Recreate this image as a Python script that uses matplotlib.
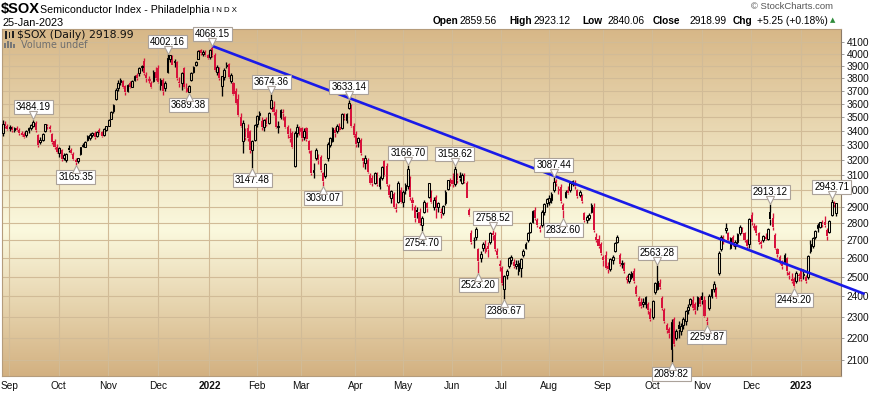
import numpy as np
import pandas as pd
import matplotlib
matplotlib.use('Agg')
import matplotlib.pyplot as plt
from matplotlib.colors import LinearSegmentedColormap
from matplotlib.transforms import offset_copy
from matplotlib.ticker import NullLocator
from matplotlib.patches import Rectangle

# ---------------- data ----------------
holidays = ['2021-09-06', '2021-11-25', '2021-12-24', '2022-01-17', '2022-02-21',
            '2022-04-15', '2022-05-30', '2022-06-20', '2022-07-04', '2022-09-05',
            '2022-11-24', '2022-12-26', '2023-01-02', '2023-01-16', '2023-02-20']
first_day = '2021-08-27'
last_day = '2023-01-25'

opens = [3390,3450,3440,3420,3430,3405,3420,3410,3385,3380,3370,3405,3420,3440,3460,3370,3320,3340,3400,3440,3430,3380,3330,3290,
 3250,3270,3210,3200,3280,3270,3240,3200,3195,3240,3295,3290,3335,3350,3370,3390,3365,3405,3395,3370,3405,
 3440,3490,3545,3640,3720,3770,3780,3740,3700,3760,3735,3790,3830,3840,3890,3940,3830,3790,3760,3780,3850,
 3880,3750,3790,3720,3850,3960,3980,3935,3935,3770,3760,3880,3700,3690,3790,3850,3910,3960,4030,4000,4020,3990,
 3975,4050,3990,3850,3880,3740,3810,3900,3915,3780,3760,3700,3640,3500,3330,3400,3420,3400,3270,3340,
 3450,3520,3470,3430,3490,3460,3570,3580,3540,3430,3500,3540,3500,3430,3360,3390,3160,3390,3400,
 3420,3360,3420,3330,3260,3120,3210,3230,3220,3110,3090,3210,3300,3330,3410,3400,3430,3420,3520,3480,3570,3590,3440,
 3380,3320,3340,3210,3180,3200,3100,3080,3050,3110,3030,3080,3190,3160,3030,2950,2980,2890,2930,3000,
 2930,3000,3030,3080,2940,2900,2880,2870,2790,2870,2920,2960,2990,2900,2960,2900,2870,2860,2920,3010,3060,
 3070,3040,3100,3090,3050,3090,3050,2880,2740,2700,2720,2650,2600,2660,2640,2670,2690,2740,2730,2640,2570,
 2550,2440,2510,2560,2590,2580,2560,2530,2550,2620,2660,2700,2750,2810,2880,2820,2780,2790,2870,2920,
 2930,2940,3000,3060,3000,3020,2910,2960,3000,3000,3040,3050,3000,2970,2970,2860,2820,2830,2870,2900,2720,2710,2680,
 2610,2620,2560,2540,2590,2640,2690,2620,2570,2570,2490,2480,2500,2530,2450,2390,2370,2360,2360,2360,2320,
 2300,2420,2440,2470,2390,2330,2260,2240,2150,2290,2200,2260,2230,2260,2280,2330,2360,2380,2360,2350,2390,
 2400,2380,2280,2340,2400,2440,2440,2520,2650,2700,2760,2740,2660,2720,2670,2690,2740,2770,2740,2700,2680,
 2850,2780,2780,2740,2690,2700,2720,2710,2870,2830,2730,2650,2610,2570,2580,2600,2520,2490,2490,2480,2510,
 2530,2510,2500,2500,2640,2670,2720,2770,2780,2800,2810,2760,2750,2850,2920,2859.56]

highs = [3480,3470,3455,3445,3440,3430,3440,3420,3400,3395,3410,3430,3450,3484.19,3470,3380,3360,3390,3455,3455,3445,3390,3345,3310,
 3290,3275,3250,3245,3300,3280,3255,3215,3215,3290,3315,3330,3370,3385,3395,3400,3400,3420,3400,3420,3440,
 3485,3545,3600,3720,3790,3800,3790,3750,3755,3775,3790,3830,3845,3890,3910,3965,3850,3815,3775,3870,3890,
 3905,3800,3805,3775,4002.16,3995,3990,3955,3945,3810,3850,3890,3760,3750,3850,3900,3940,4030,4045,4030,4030,4000,
 4040,4068.15,4005,3910,3890,3820,3880,3930,3925,3840,3770,3720,3680,3530,3480,3420,3450,3410,3340,3450,
 3520,3550,3500,3490,3500,3540,3674.36,3620,3560,3470,3560,3560,3510,3445,3420,3400,3400,3450,3440,
 3430,3420,3430,3340,3270,3180,3280,3240,3230,3120,3180,3320,3360,3430,3430,3450,3460,3530,3530,3530,3633.14,3600,3460,
 3400,3360,3350,3215,3230,3210,3110,3100,3120,3120,3090,3160,3200,3180,3040,3000,2990,2920,3060,3020,
 3000,3050,3166.70,3090,2960,2910,2900,2890,2840,2940,2930,3050,3000,2960,2970,2930,2890,2910,3000,3070,3080,
 3110,3158.62,3110,3120,3110,3110,3060,2890,2760,2720,2780,2660,2640,2690,2700,2690,2750,2758.52,2750,2660,2590,
 2560,2510,2540,2610,2620,2595,2590,2590,2600,2650,2690,2750,2810,2880,2900,2830,2790,2880,2920,2950,
 2970,2990,3087.44,3075,3030,3040,2920,3000,3030,3050,3070,3065,3010,3000,2980,2870,2850,2860,2920,2920,2740,2730,2690,
 2620,2640,2580,2600,2620,2690,2730,2630,2590,2580,2510,2520,2530,2550,2460,2400,2390,2390,2400,2370,2340,
 2380,2475,2563.28,2490,2400,2340,2270,2250,2290,2300,2240,2280,2270,2300,2330,2360,2390,2400,2370,2400,2400,
 2420,2400,2300,2410,2440,2480,2450,2640,2730,2730,2800,2750,2720,2730,2700,2740,2790,2780,2750,2710,2830,
 2870,2800,2790,2750,2700,2730,2740,2770,2913.12,2860,2740,2660,2620,2590,2630,2610,2530,2520,2500,2530,2520,
 2550,2540,2510,2620,2700,2720,2760,2800,2810,2820,2840,2770,2820,2943.71,2935,2923.12]

lows = [3365,3425,3405,3400,3395,3395,3400,3370,3365,3350,3360,3390,3405,3430,3395,3285,3310,3330,3395,3415,3395,3310,3275,3250,
 3220,3190,3200,3185,3255,3240,3200,3165.35,3180,3235,3285,3285,3330,3340,3355,3345,3360,3380,3355,3365,3400,
 3435,3485,3535,3630,3700,3745,3720,3670,3695,3720,3730,3780,3790,3820,3860,3830,3770,3765,3720,3770,3790,
 3765,3710,3670,3700,3845,3935,3905,3890,3790,3730,3710,3720,3695,3689.38,3780,3840,3900,3955,3990,3985,3985,3960,
 3960,3975,3860,3830,3790,3665,3790,3880,3800,3760,3670,3600,3510,3430,3250,3340,3330,3250,3147.48,3330,
 3430,3480,3410,3400,3440,3450,3565,3520,3420,3390,3490,3480,3420,3350,3320,3280,3155,3360,3370,
 3330,3340,3330,3250,3100,3080,3200,3170,3120,3030.07,3080,3190,3290,3320,3360,3390,3400,3415,3480,3460,3560,3430,3360,
 3290,3290,3230,3150,3140,3110,3040,3030,3040,3030,3010,3070,3090,3030,2960,2920,2890,2870,2920,2920,
 2900,2980,3010,2940,2880,2810,2830,2790,2754.70,2860,2870,2950,2920,2880,2830,2870,2830,2850,2910,3000,3030,
 3020,3030,3050,3060,3040,3050,2950,2840,2680,2660,2700,2523.20,2580,2640,2630,2610,2680,2700,2640,2600,2530,
 2460,2386.67,2490,2550,2570,2550,2540,2510,2500,2610,2650,2690,2740,2800,2820,2780,2750,2780,2850,2900,
 2910,2920,2990,3030,2980,2920,2832.60,2950,2980,2990,3030,3010,2950,2960,2920,2810,2800,2820,2860,2750,2690,2660,2620,
 2560,2540,2520,2530,2570,2635,2685,2560,2550,2520,2470,2470,2490,2470,2400,2350,2340,2345,2340,2310,2280,
 2290,2410,2430,2440,2330,2270,2220,2200,2089.82,2160,2190,2200,2210,2240,2260,2310,2350,2330,2310,2330,2350,
 2360,2300,2259.87,2330,2390,2420,2390,2510,2640,2680,2740,2690,2650,2670,2650,2680,2730,2740,2690,2660,2660,
 2790,2760,2730,2680,2660,2690,2700,2700,2790,2760,2650,2610,2570,2540,2570,2510,2490,2470,2445.20,2470,2480,
 2480,2490,2470,2490,2630,2660,2710,2750,2770,2780,2780,2700,2740,2840,2900,2840.06]

closes = [3450,3440,3415,3430,3405,3420,3410,3385,3375,3360,3400,3420,3445,3465,3410,3300,3335,3380,3450,3440,3415,3320,3285,3255,
 3280,3205,3235,3240,3265,3250,3205,3185,3210,3285,3305,3325,3365,3375,3385,3355,3395,3390,3365,3415,3435,
 3480,3540,3595,3710,3765,3785,3735,3690,3745,3730,3775,3820,3800,3880,3895,3845,3800,3795,3735,3855,3805,
 3770,3790,3700,3765,3965,3990,3910,3945,3800,3760,3840,3730,3720,3740,3845,3895,3930,4025,4005,4015,3995,3970,
 4030,3995,3865,3890,3800,3815,3870,3905,3810,3830,3680,3610,3520,3440,3460,3360,3350,3270,3330,3445,
 3510,3535,3430,3480,3455,3530,3630,3540,3430,3440,3555,3535,3430,3380,3350,3290,3390,3430,3420,
 3350,3400,3345,3270,3110,3130,3270,3200,3130,3060,3170,3310,3350,3420,3390,3440,3410,3525,3495,3525,3605,3440,3370,
 3310,3350,3245,3190,3210,3120,3050,3045,3110,3040,3080,3150,3100,3040,2970,2995,2900,2885,3045,2930,
 2990,3035,3140,2960,2925,2830,2870,2800,2830,2930,2890,3045,2930,2940,2890,2920,2860,2905,2990,3065,3050,
 3040,3140,3065,3080,3100,3060,2955,2850,2690,2705,2765,2585,2625,2680,2660,2650,2745,2730,2650,2620,2560,
 2470,2505,2530,2600,2610,2560,2570,2575,2595,2640,2680,2745,2800,2875,2830,2790,2765,2870,2915,2945,
 2955,2980,3055,3045,3010,2935,2880,2990,2985,3045,3060,3030,2965,2990,2935,2820,2835,2850,2910,2760,2700,2670,2630,
 2590,2550,2540,2595,2610,2685,2720,2570,2575,2530,2500,2515,2520,2480,2410,2375,2350,2370,2395,2330,2290,
 2375,2470,2480,2450,2340,2280,2235,2220,2275,2170,2230,2240,2255,2290,2325,2345,2385,2340,2330,2395,2360,
 2380,2305,2280,2400,2435,2465,2395,2630,2720,2710,2770,2700,2715,2680,2690,2735,2780,2750,2700,2670,2825,
 2810,2785,2740,2690,2680,2725,2710,2765,2825,2780,2660,2625,2580,2560,2620,2530,2510,2480,2455,2520,2505,
 2490,2515,2480,2615,2680,2715,2755,2790,2805,2795,2790,2725,2815,2930,2913.74,2918.99]

month_labels = ['Sep', 'Oct', 'Nov', 'Dec', '2022', 'Feb', 'Mar', 'Apr', 'May', 'Jun',
                'Jul', 'Aug', 'Sep', 'Oct', 'Nov', 'Dec', '2023']
y_ticks = list(range(2100, 4101, 100))

high_label_dates = ['2021-09-16', '2021-12-07', '2022-01-04', '2022-02-09', '2022-03-29', '2022-05-04',
                    '2022-06-02', '2022-06-27', '2022-08-03', '2022-10-05', '2022-12-13', '2023-01-23']
low_label_dates = ['2021-10-12', '2021-12-20', '2022-01-28', '2022-03-14', '2022-05-12', '2022-06-16',
                   '2022-07-05', '2022-08-09', '2022-10-13', '2022-11-03', '2022-12-28']

trend_dates = ['2022-01-04', '2023-02-10']
trend_prices = [4068.15, 2412.0]

# ---------------- derived ----------------
hol = pd.to_datetime(holidays)
dates = pd.bdate_range(first_day, last_day)
dates = dates[~dates.isin(hol)]
O = np.array(opens, float); H = np.array(highs, float)
L = np.array(lows, float); C = np.array(closes, float)
n = len(C)
assert len(O) == n and len(H) == n and len(L) == n and len(dates) == n
xi = np.arange(n)


def date_pos(d):
    d = pd.Timestamp(d)
    hd = np.array(holidays, dtype='datetime64[D]')
    return float(np.busday_count(np.datetime64(dates[0].date()), np.datetime64(d.date()), holidays=hd))


RED = '#D8123C'
BLACK = '#000000'
prev = np.r_[C[0] - 1, C[:-1]]
colors = np.where(C >= prev, BLACK, RED)
hollow = C > O

W, Hpx = 871, 395
fig = plt.figure(figsize=(W / 100, Hpx / 100), dpi=100)
fig.patch.set_facecolor('white')
top_px, bot_px, left_px, right_px = 28.5, 376, 2, 841
ax = fig.add_axes([left_px / W, 1 - bot_px / Hpx, (right_px - left_px) / W, (bot_px - top_px) / Hpx])
ax.set_yscale('log')

# background gradient
cmap = LinearSegmentedColormap.from_list('bg', [(0.0, '#D3B181'), (0.42, '#FBF9DE'), (1.0, '#D7B787')])
grad = np.linspace(0, 1, 256).reshape(-1, 1)
ax.imshow(grad, cmap=cmap, extent=[0, 1, 0, 1], transform=ax.transAxes, aspect='auto',
          origin='lower', zorder=0, interpolation='bilinear')

# month positions
per = dates.to_period('M')
month_pos = [i for i in range(1, n) if per[i] != per[i - 1]]
month_pos = np.array(month_pos[:len(month_labels)], float) - 0.2

grid_col = '#D1BB97'
for yv in y_ticks:
    ax.axhline(yv, color=grid_col, lw=0.8, zorder=1)
for xv in month_pos:
    ax.axvline(xv, color=grid_col, lw=0.8, zorder=1)

# candles
body_lo = np.minimum(O, C)
body_hi = np.maximum(O, C)
body_hi = np.maximum(body_hi, body_lo * 1.002)
ax.vlines(xi, L, body_lo, colors=colors, lw=0.95, zorder=3)
ax.vlines(xi, body_hi, H, colors=colors, lw=0.95, zorder=3)
bw = 0.88
f = ~hollow
ax.bar(xi[f], (body_hi - body_lo)[f], bottom=body_lo[f], width=bw, color=colors[f], lw=0, zorder=4)
ax.bar(xi[hollow], (body_hi - body_lo)[hollow], bottom=body_lo[hollow], width=bw * 0.85,
       facecolor='none', edgecolor=colors[hollow], lw=0.75, zorder=4)

# trend line
tx = [date_pos(d) for d in trend_dates]
ax.plot(tx, trend_prices, color='#1A1AE8', lw=1.9, zorder=5, clip_on=False, solid_capstyle='butt')

# limits (pixel mapping of reference)
px_per_bar = 2.355
x0 = 2.7
ax.set_xlim((left_px - x0) / px_per_bar, (right_px - x0) / px_per_bar)
ref_hi, ref_y, k = 4068.15, 46.0, 474.4
ax.set_ylim(ref_hi * np.exp(-(bot_px - ref_y) / k), ref_hi * np.exp((ref_y - top_px) / k))

# annotations
lab_font = dict(family=['Liberation Sans', 'DejaVu Sans'], fontsize=7.0, color='black')
box = dict(boxstyle='square,pad=0.2', fc='white', ec='#ABA29A', lw=0.8)
tup = offset_copy(ax.transData, fig=fig, x=0, y=3.0, units='points')
tdn = offset_copy(ax.transData, fig=fig, x=0, y=-3.0, units='points')
for d in high_label_dates:
    i = int(date_pos(d)); v = H[i]
    ax.annotate(f'{v:.2f}', xy=(i, v), xytext=(0, 5.2), textcoords='offset points', ha='center',
                va='bottom', bbox=box, zorder=7, annotation_clip=False, **lab_font)
    ax.plot([i], [v], marker='v', ms=5.5, mfc='white', mec='#ABA29A', mew=0.8, transform=tup,
            zorder=8, clip_on=False)
for d in low_label_dates:
    i = int(date_pos(d)); v = L[i]
    ax.annotate(f'{v:.2f}', xy=(i, v), xytext=(0, -5.2), textcoords='offset points', ha='center',
                va='top', bbox=box, zorder=7, annotation_clip=False, **lab_font)
    ax.plot([i], [v], marker='^', ms=5.5, mfc='white', mec='#ABA29A', mew=0.8, transform=tdn,
            zorder=8, clip_on=False)

# axes ticks
narrow = ['Liberation Sans Narrow', 'Liberation Sans', 'DejaVu Sans']
ax.yaxis.tick_right()
ax.set_yticks(y_ticks)
ax.yaxis.set_minor_locator(NullLocator())
ax.set_yticklabels([str(v) for v in y_ticks], family=narrow, fontsize=7.3)
ax.tick_params(axis='y', length=2.5, width=0.6, color='#8C8C8C', pad=1.5, labelcolor='#111111')
ax.set_xticks(month_pos)
ax.set_xticklabels(month_labels, family=narrow, fontsize=7.3)
for t in ax.get_xticklabels():
    if t.get_text().isdigit():
        t.set_fontweight('bold')
ax.tick_params(axis='x', length=0, pad=3.5, labelcolor='#111111')
for s in ax.spines.values():
    s.set_color('#B59C7C'); s.set_linewidth(0.8)
ax.spines['right'].set_linestyle((0, (1, 1)))
ax.spines['right'].set_color('#8C7A66')


def P(x, y):
    return (x / W, 1 - y / Hpx)


# header texts
sans = ['Liberation Sans', 'DejaVu Sans']
fig.text(*P(1, 9.5), r'\$SOX', family=sans, fontsize=10.5, fontweight='bold', va='center', ha='left')
fig.text(*P(39.5, 9.8), 'Semiconductor Index - Philadelphia', family=sans, fontsize=7.7, va='center')
fig.text(*P(212, 10.2), 'I N D X', family=sans, fontsize=5.6, va='center')
fig.text(*P(2, 22.5), '25-Jan-2023', family=sans, fontsize=7.8, va='center')
fig.text(*P(833, 6.8), '\u00a9 StockCharts.com', family=sans, fontsize=6.8, va='center', ha='right',
         color='#555555')
segs = [('Open', 'bold', 433), ('2859.56', 'normal', 459), ('High', 'bold', 509), ('2923.12', 'normal', 534),
        ('Low', 'bold', 582), ('2840.06', 'normal', 607), ('Close', 'bold', 653), ('2918.99', 'normal', 689),
        ('Chg', 'bold', 733), ('+5.25 (+0.18%)', 'normal', 757)]
for s, wgt, xp in segs:
    fig.text(*P(xp, 20.8), s, family=sans, fontsize=7.3 if wgt == 'bold' else 7.4, fontweight=wgt,
             va='center', ha='left')
fig.text(*P(830, 20.3), '\u25b2', family=['DejaVu Sans'], fontsize=5, va='center', ha='left', color='#2E8B3A')

# in-plot legend with small icons
fig.text(*P(17, 35.5), r'\$SOX (Daily) 2918.99', family=['DejaVu Sans'], fontsize=7.8, va='center',
         color='#111111', zorder=10)
fig.text(*P(21, 45.5), 'Volume undef', family=['DejaVu Sans'], fontsize=6.9, va='center',
         color='#6E6E6E', zorder=10)
icon_rects = [(5, 31, 1.6, 8, '#222222'), (8.5, 32, 1.6, 6, '#222222'), (12, 31, 1.6, 7, '#222222'),
              (4, 43, 1.6, 5, '#777777'), (7, 41, 1.6, 7, '#777777'), (10, 42, 1.6, 6, '#777777'),
              (13, 44, 1.6, 4, '#777777')]
for (rx, ry, rw, rh, rc) in icon_rects:
    fig.add_artist(Rectangle(P(rx, ry + rh), rw / W, rh / Hpx, transform=fig.transFigure,
                             facecolor=rc, edgecolor='none', zorder=10))

fig.savefig('out.png', dpi=100, facecolor='white')
